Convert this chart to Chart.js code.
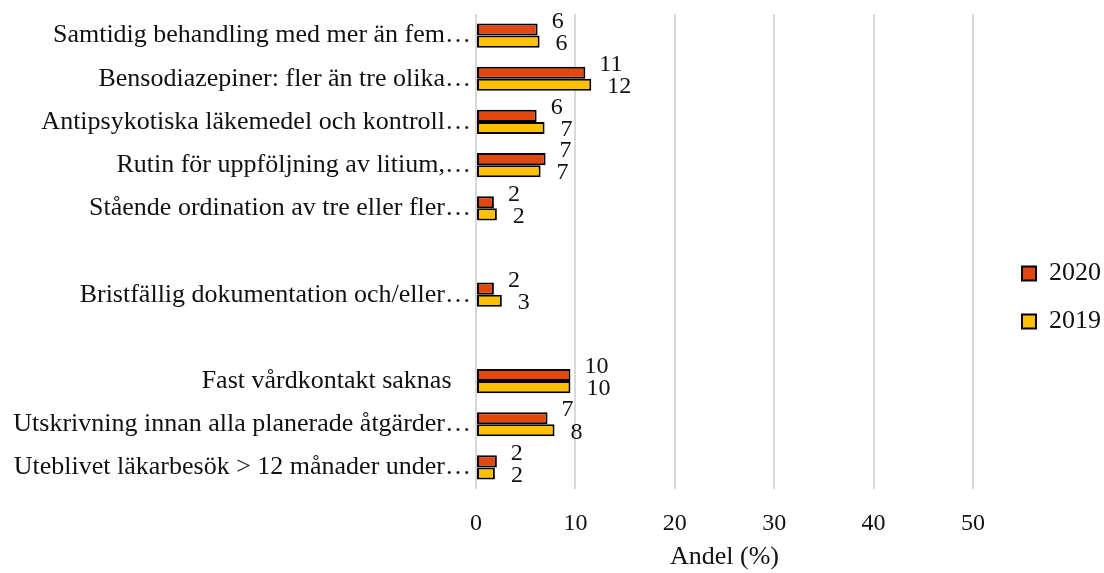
<!DOCTYPE html>
<html>
<head>
<meta charset="utf-8">
<script src="https://cdn.jsdelivr.net/npm/chart.js@4"></script>
<style>
  html, body { margin: 0; padding: 0; background: #fff; }
</style>
</head>
<body>
<canvas id="ourChart" width="1104" height="573"></canvas>
<script>
// kategorier (tomma rader = luckor i diagrammet)
const categories = [
    'Samtidig behandling med mer än fem…',
    'Bensodiazepiner: fler än tre olika…',
    'Antipsykotiska läkemedel och kontroll…',
    'Rutin för uppföljning av litium,…',
    'Stående ordination av tre eller fler…',
    '',
    'Bristfällig dokumentation och/eller…',
    '',
    'Fast vårdkontakt saknas\u00a0\u00a0\u00a0',
    'Utskrivning innan alla planerade åtgärder…',
    'Uteblivet läkarbesök > 12 månader under…'
];
const values2020 = [6.2, 11.0, 6.1, 7.0, 1.8, null, 1.8, null, 9.5, 7.2, 2.1];
const values2019 = [6.4, 11.6, 6.9, 6.5, 2.1, null, 2.6, null, 9.5, 7.9, 1.9];
const xTicks = [0, 10, 20, 30, 40, 50];

const serif = "'Liberation Serif', 'Times New Roman', serif";

// skriver ut avrundat värde bredvid varje stapel
const valueLabels = {
    id: 'valueLabels',
    afterDatasetsDraw(chart) {
        const ctx = chart.ctx;
        ctx.save();
        ctx.font = '24px ' + serif;
        ctx.fillStyle = '#111';
        ctx.textAlign = 'left';
        ctx.textBaseline = 'middle';
        chart.data.datasets.forEach((ds, di) => {
            const meta = chart.getDatasetMeta(di);
            meta.data.forEach((bar, i) => {
                const v = ds.data[i];
                if (v === null) return;
                const dx = di === 0 ? 14 : 16;
                const dy = di === 0 ? -8 : 2;
                ctx.fillText(String(Math.round(v)), bar.x + dx, bar.y + dy);
            });
        });
        ctx.restore();
    }
};

// flytta legenden lite åt höger/nedåt, som i originalet
const legendShift = {
    id: 'legendShift',
    afterLayout(chart) {
        const lg = chart.legend;
        lg.left += 27; lg.right += 27;
        lg.top += 4; lg.bottom += 4;
    }
};

const chartElement = new Chart(document.getElementById('ourChart'), {
    type: 'bar',
    data: {
        labels: categories,
        datasets: [
            {
                label: '2020',
                data: values2020,
                backgroundColor: '#E1470E',
                borderColor: '#000',
                borderWidth: 2,
                borderSkipped: false
            },
            {
                label: '2019',
                data: values2019,
                backgroundColor: '#FFC000',
                borderColor: '#000',
                borderWidth: 2,
                borderSkipped: false
            }
        ]
    },
    options: {
        indexAxis: 'y',
        responsive: false,
        animation: false,
        devicePixelRatio: 1,
        datasets: {
            bar: { categoryPercentage: 0.56, barPercentage: 1 }
        },
        layout: { padding: { top: 14, right: 20, bottom: 0, left: 0 } },
        scales: {
            x: {
                min: 0,
                max: 50,
                afterBuildTicks: s => { s.ticks = xTicks.map(v => ({ value: v })); },
                afterFit: s => { s.height = 84; },
                grid: { color: '#D9D9D9', lineWidth: 2, drawTicks: false },
                border: { display: false },
                ticks: { color: '#111', font: { family: serif, size: 24 }, padding: 20 },
                title: {
                    display: true,
                    text: 'Andel (%)',
                    color: '#111',
                    font: { family: serif, size: 26 },
                    padding: { top: 2, bottom: 0 }
                }
            },
            y: {
                afterFit: s => { s.width = 476; s.paddingTop = 0; s.paddingBottom = 0; },
                grid: { display: false, drawTicks: false },
                border: { display: false },
                ticks: { color: '#111', font: { family: serif, size: 26 }, padding: 5, autoSkip: false }
            }
        },
        plugins: {
            legend: {
                position: 'right',
                labels: {
                    color: '#111',
                    font: { family: serif, size: 26 },
                    boxWidth: 14,
                    boxHeight: 14,
                    padding: 22
                }
            },
            tooltip: { enabled: false }
        }
    },
    plugins: [valueLabels, legendShift]
});
</script>
</body>
</html>
